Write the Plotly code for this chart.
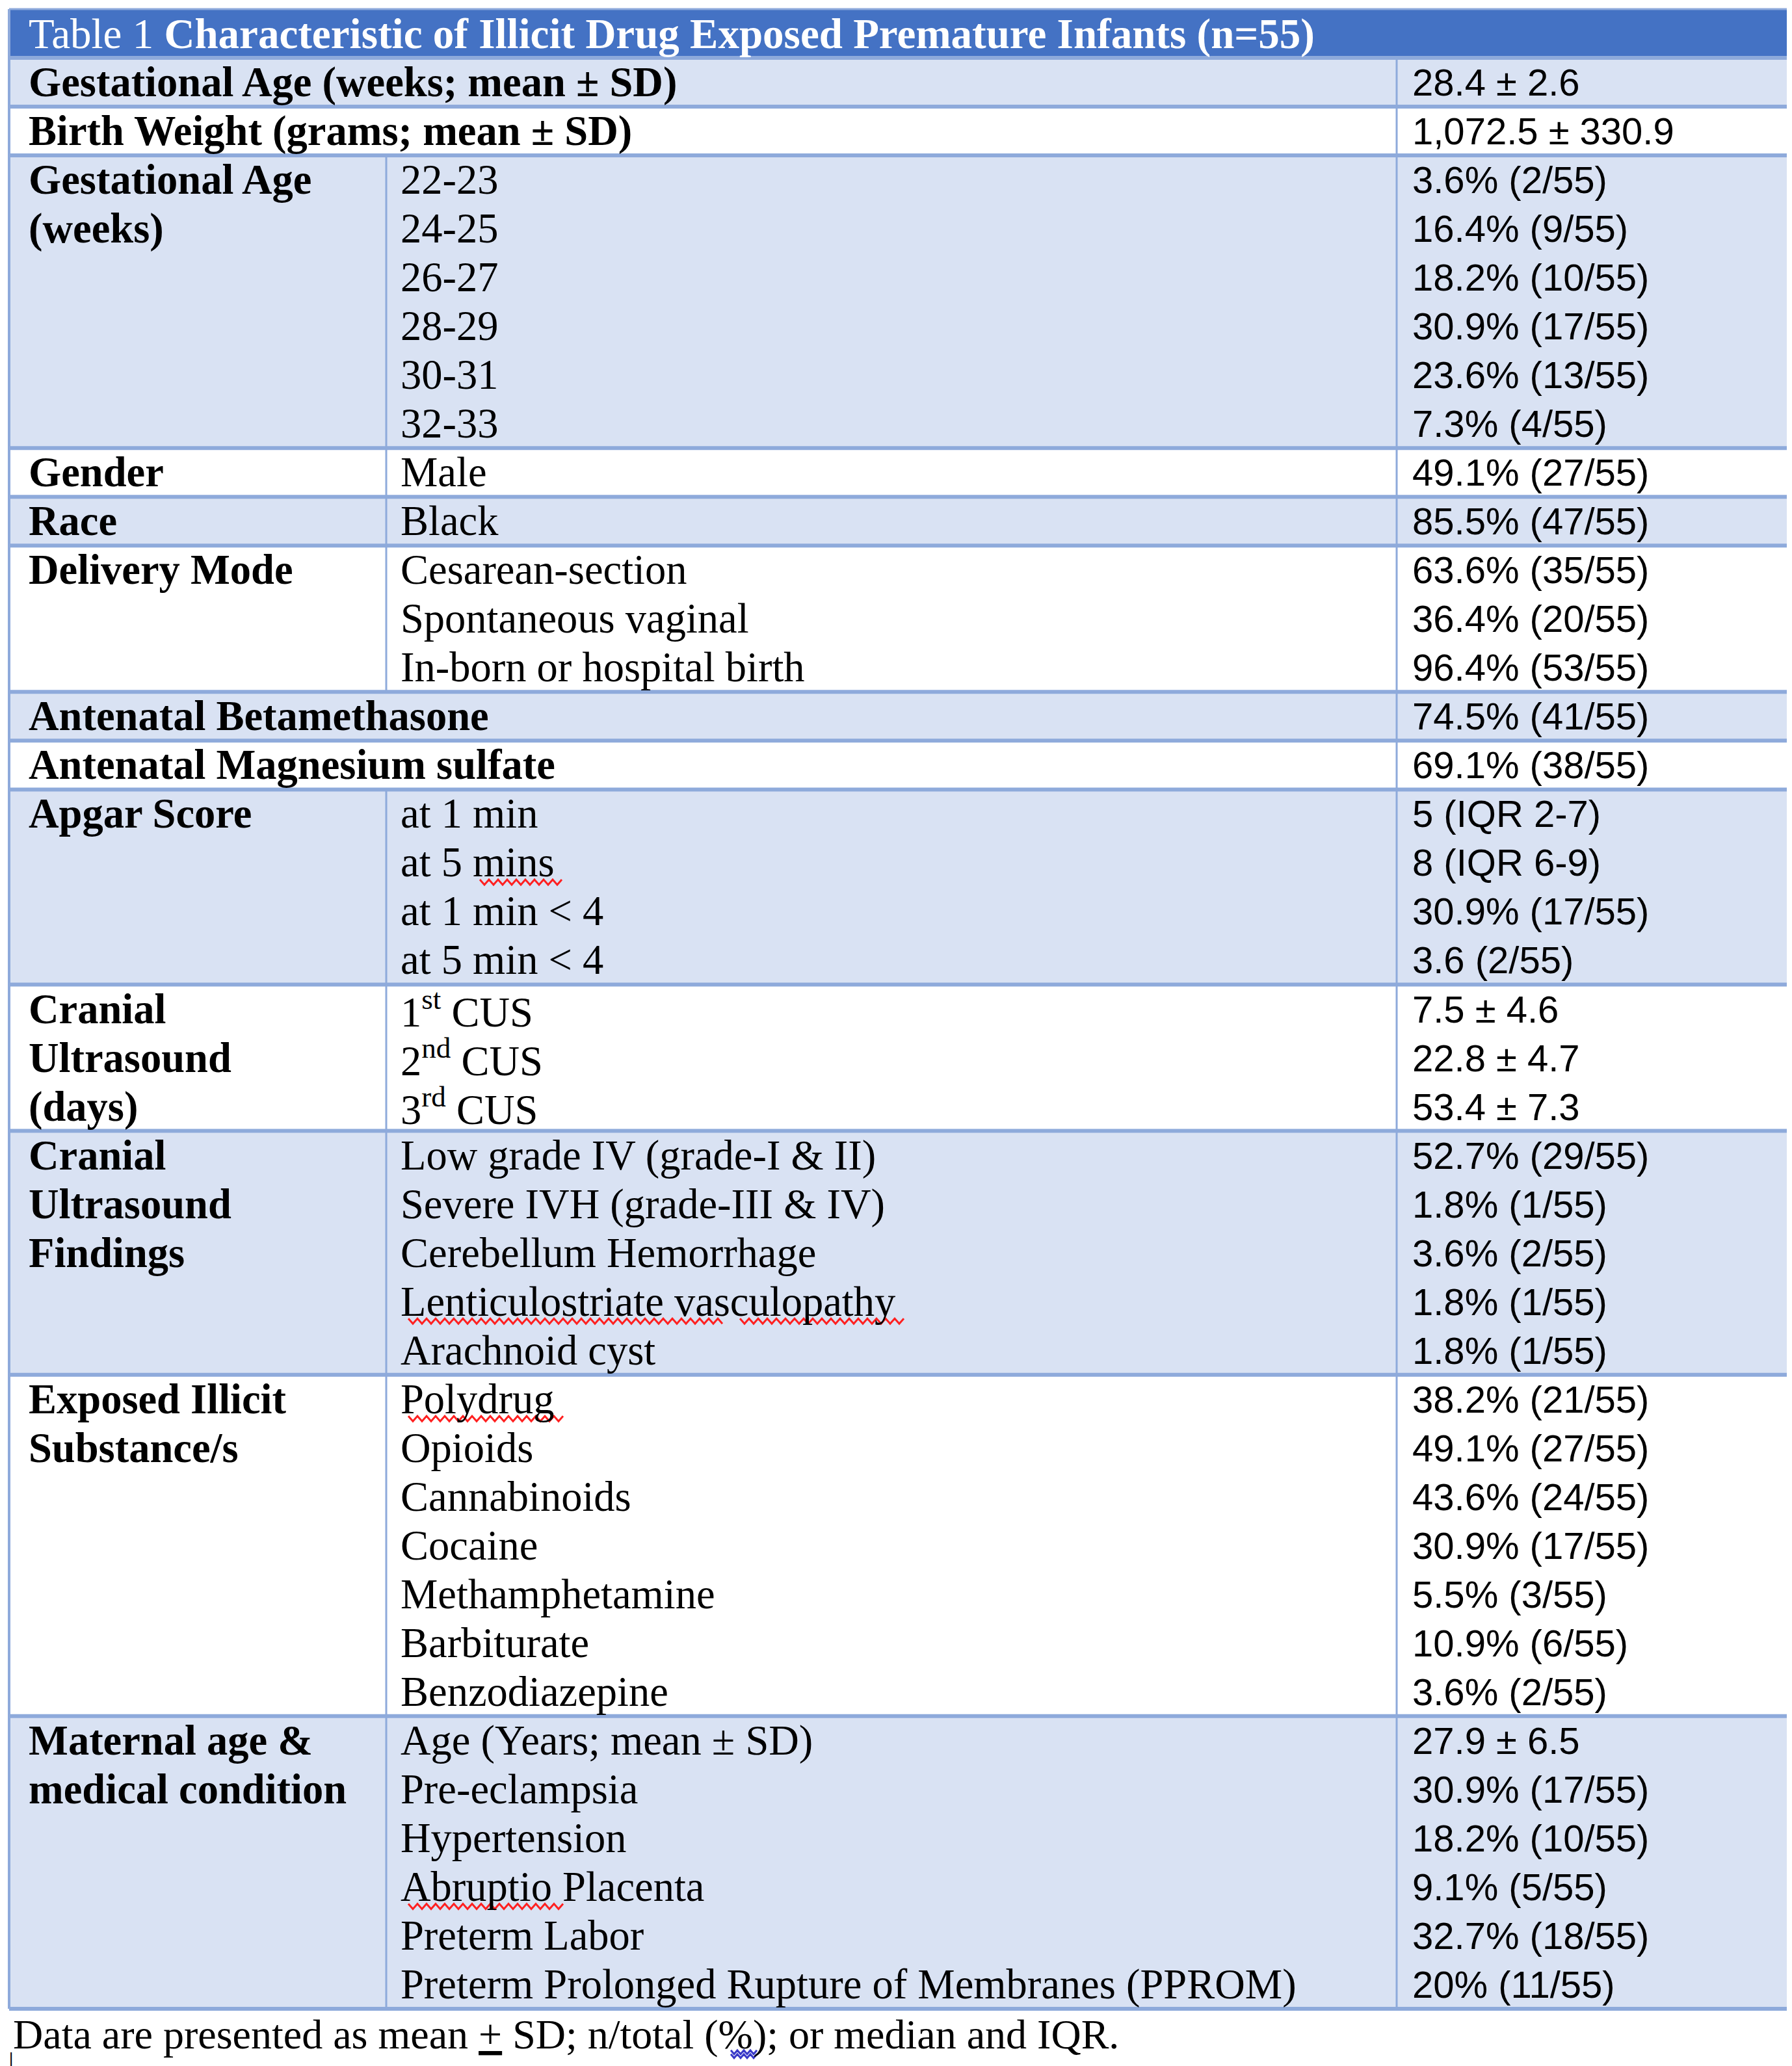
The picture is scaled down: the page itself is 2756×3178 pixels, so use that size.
import plotly.graph_objects as go

# ---------------- data ----------------
title_plain = "Table 1 "
title_bold = "Characteristic of Illicit Drug Exposed Premature Infants (n=55)"

group_labels = [
    ["Gestational Age (weeks; mean ± SD)"],
    ["Birth Weight (grams; mean ± SD)"],
    ["Gestational Age", "(weeks)"],
    ["Gender"],
    ["Race"],
    ["Delivery Mode"],
    ["Antenatal Betamethasone"],
    ["Antenatal Magnesium sulfate"],
    ["Apgar Score"],
    ["Cranial", "Ultrasound", "(days)"],
    ["Cranial", "Ultrasound", "Findings"],
    ["Exposed Illicit", "Substance/s"],
    ["Maternal age &", "medical condition"],
]

group_items = [
    [],
    [],
    ["22-23", "24-25", "26-27", "28-29", "30-31", "32-33"],
    ["Male"],
    ["Black"],
    ["Cesarean-section", "Spontaneous vaginal", "In-born or hospital birth"],
    [],
    [],
    ["at 1 min", "at 5 mins", "at 1 min &lt; 4", "at 5 min &lt; 4"],
    ["1<sup>st</sup> CUS", "2<sup>nd</sup> CUS", "3<sup>rd</sup> CUS"],
    ["Low grade IV (grade-I &amp; II)", "Severe IVH (grade-III &amp; IV)",
     "Cerebellum Hemorrhage", "Lenticulostriate vasculopathy", "Arachnoid cyst"],
    ["Polydrug", "Opioids", "Cannabinoids", "Cocaine", "Methamphetamine",
     "Barbiturate", "Benzodiazepine"],
    ["Age (Years; mean ± SD)", "Pre-eclampsia", "Hypertension", "Abruptio Placenta",
     "Preterm Labor", "Preterm Prolonged Rupture of Membranes (PPROM)"],
]

group_values = [
    ["28.4 ± 2.6"],
    ["1,072.5 ± 330.9"],
    ["3.6% (2/55)", "16.4% (9/55)", "18.2% (10/55)", "30.9% (17/55)",
     "23.6% (13/55)", "7.3% (4/55)"],
    ["49.1% (27/55)"],
    ["85.5% (47/55)"],
    ["63.6% (35/55)", "36.4% (20/55)", "96.4% (53/55)"],
    ["74.5% (41/55)"],
    ["69.1% (38/55)"],
    ["5 (IQR 2-7)", "8 (IQR 6-9)", "30.9% (17/55)", "3.6 (2/55)"],
    ["7.5 ± 4.6", "22.8 ± 4.7", "53.4 ± 7.3"],
    ["52.7% (29/55)", "1.8% (1/55)", "3.6% (2/55)", "1.8% (1/55)", "1.8% (1/55)"],
    ["38.2% (21/55)", "49.1% (27/55)", "43.6% (24/55)", "30.9% (17/55)",
     "5.5% (3/55)", "10.9% (6/55)", "3.6% (2/55)"],
    ["27.9 ± 6.5", "30.9% (17/55)", "18.2% (10/55)", "9.1% (5/55)",
     "32.7% (18/55)", "20% (11/55)"],
]

footnote = "Data are presented as mean <u>+</u> SD; n/total (%); or median and IQR."

# spell-check underlines: (group index, line within group, word start px, word end px, colour)
squiggles = [
    (8, 1, 730, 858, "#FF2020"),
    (10, 3, 620, 1108, "#FF2020"),
    (10, 3, 1130, 1385, "#FF2020"),
    (11, 0, 620, 858, "#FF2020"),
    (12, 3, 620, 858, "#FF2020"),
]

# ---------------- style ----------------
W, H = 2756, 3178
TOP_PX, BOT_PX = 6, 3082
X_LEFT, X_DIV1, X_DIV2, X_RIGHT = 6, 586, 2140, 2746
TX1, TX2, TX3 = 34, 606, 2162
HEADER_BLUE = "#4472C4"
LIGHT = "#D9E2F3"
BORDER = "#8EAADB"
SERIF = "Liberation Serif, Times New Roman, serif"
SANS = "Liberation Sans, Arial, sans-serif"
FS = 64.5
FS_VAL = 58

n_lines = [max(len(l), len(i), len(v)) for l, i, v in zip(group_labels, group_items, group_values)]
total_lines = 1 + sum(n_lines)
P = (BOT_PX - TOP_PX) / total_lines
y_top = -TOP_PX / P
y_bot = (H - TOP_PX) / P

fig = go.Figure()
fig.add_trace(go.Scatter(x=[0], y=[0], mode="markers", marker=dict(opacity=0), hoverinfo="skip", showlegend=False))

shapes = []
annotations = []

# header
shapes.append(dict(type="rect", xref="x", yref="y", x0=X_LEFT, x1=X_RIGHT, y0=0, y1=1,
                   fillcolor=HEADER_BLUE, line=dict(width=0), layer="below"))
annotations.append(dict(x=TX1, y=0.5, xref="x", yref="y", xanchor="left", yanchor="middle",
                        text=title_plain + "<b>" + title_bold + "</b>", showarrow=False,
                        font=dict(family=SERIF, size=FS + 0.5, color="white")))

row = 1
bounds = [1]
starts = []
for gi, (labs, items, vals) in enumerate(zip(group_labels, group_items, group_values)):
    n = n_lines[gi]
    starts.append(row)
    fill = LIGHT if gi % 2 == 0 else "white"
    shapes.append(dict(type="rect", xref="x", yref="y", x0=X_LEFT, x1=X_RIGHT, y0=row, y1=row + n,
                       fillcolor=fill, line=dict(width=0), layer="below"))
    for k, t in enumerate(labs):
        annotations.append(dict(x=TX1, y=row + k + 0.5, xref="x", yref="y", xanchor="left",
                                yanchor="middle", text="<b>" + t + "</b>", showarrow=False,
                                font=dict(family=SERIF, size=FS, color="black")))
    for k, t in enumerate(items):
        annotations.append(dict(x=TX2, y=row + k + 0.5, xref="x", yref="y", xanchor="left",
                                yanchor="middle", text=t, showarrow=False,
                                font=dict(family=SERIF, size=FS, color="black")))
    for k, t in enumerate(vals):
        annotations.append(dict(x=TX3, y=row + k + 0.5, xref="x", yref="y", xanchor="left",
                                yanchor="middle", text=t, showarrow=False,
                                font=dict(family=SANS, size=FS_VAL, color="black")))
    if len(items) > 0:
        shapes.append(dict(type="line", xref="x", yref="y", x0=X_DIV1, x1=X_DIV1, y0=row, y1=row + n,
                           line=dict(color=BORDER, width=3)))
    row += n
    bounds.append(row)

# vertical borders
for xv in (X_LEFT, X_RIGHT):
    shapes.append(dict(type="line", xref="x", yref="y", x0=xv, x1=xv, y0=0, y1=total_lines,
                       line=dict(color=BORDER, width=4)))
shapes.append(dict(type="line", xref="x", yref="y", x0=X_DIV2, x1=X_DIV2, y0=1, y1=total_lines,
                   line=dict(color=BORDER, width=3)))
# horizontal borders
for yb in bounds:
    shapes.append(dict(type="line", xref="x", yref="y", x0=X_LEFT, x1=X_RIGHT, y0=yb, y1=yb,
                       line=dict(color=BORDER, width=6)))
shapes.append(dict(type="line", xref="x", yref="y", x0=X_LEFT, x1=X_RIGHT, y0=0, y1=0,
                   line=dict(color=BORDER, width=3)))


def wavy(x0, x1, yc, color, period=14, amp_px=4):
    amp = amp_px / P
    pts = []
    x = x0
    up = True
    while x <= x1:
        pts.append((x, yc - amp if up else yc + amp))
        up = not up
        x += period / 2
    path = "M " + " L ".join(f"{px:.1f},{py:.4f}" for px, py in pts)
    return dict(type="path", xref="x", yref="y", path=path, line=dict(color=color, width=3))


for gi, li, xa, xb, col in squiggles:
    shapes.append(wavy(xa, xb, starts[gi] + li + 0.9, col))

# footnote
fy = total_lines + 0.53
annotations.append(dict(x=10, y=fy, xref="x", yref="y", xanchor="left",
                        yanchor="middle", text=footnote, showarrow=False,
                        font=dict(family=SERIF, size=64, color="black")))
shapes.append(wavy(1116, 1160, fy + 0.36, "#3A3AC8", period=10, amp_px=3))
shapes.append(wavy(1116, 1160, fy + 0.44, "#3A3AC8", period=10, amp_px=3))
annotations.append(dict(x=4, y=total_lines + 1.0, xref="x", yref="y", xanchor="left",
                        yanchor="middle", text="|", showarrow=False,
                        font=dict(family=SANS, size=24, color="black")))

fig.update_layout(
    width=W, height=H, margin=dict(l=0, r=0, t=0, b=0),
    paper_bgcolor="white", plot_bgcolor="white",
    xaxis=dict(range=[0, W], visible=False, fixedrange=True),
    yaxis=dict(range=[y_bot, y_top], visible=False, fixedrange=True),
    shapes=shapes, annotations=annotations, showlegend=False,
)

fig.write_html("out.html")
